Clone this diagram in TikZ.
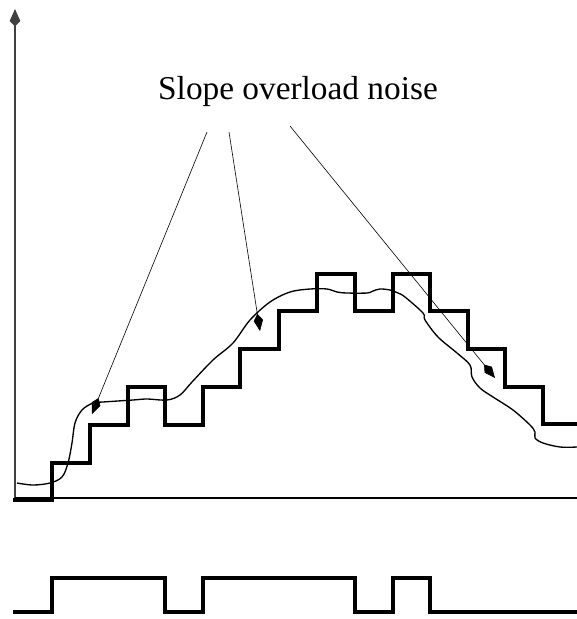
\documentclass[tikz,border=0pt]{standalone}
\usepackage{fontspec}
\setmainfont{Liberation Serif}
\usetikzlibrary{arrows.meta}
\begin{document}
\begin{tikzpicture}[x=0.75pt,y=-0.75pt,
  axisline/.style={line width=1pt,draw=black!75},
  stair/.style={line width=2.6pt,line join=miter,line cap=rect},
  signal/.style={line width=1pt,line join=round},
  pointer/.style={line width=0.45pt,-{Kite[length=13pt,width=7pt,inset=5pt]}},
  caption/.style={font=\fontsize{25}{30}\selectfont,inner sep=0pt}]
\useasboundingbox (0,0) rectangle (577,619);
% axes
\coordinate (origin) at (15,498);
\coordinate (ytop) at (15,9);
\coordinate (xend) at (577,498);
\draw[axisline,-{Kite[length=13pt,width=8pt,inset=4pt]}] (origin) -- (ytop);
\draw[line width=0.9pt] (origin) -- (xend);
% staircase approximation
\draw[stair] (15,500) -| (52,463) -| (90,425) -| (128,387) -| (165,425) -| (203,387)
  -| (240,349) -| (279,311) -| (317,274) -| (355,311) -| (393,274) -| (430,311)
  -| (468,349) -| (505,387) -| (543,424) -- (577,424);
% analog signal
\draw[signal] plot[smooth,tension=0.55] coordinates {
 (17,483) (33,485) (50,483) (62,477) (68,463) (72,443) (75,423) (82,410) (93,403)
 (103,402) (133,400) (147,399) (167,400) (180,395) (192,382) (213,360)
 (233,343) (250,320) (270,302) (290,292) (310,289) (327,289) (337,292) (347,293)
 (367,293) (373,291) (380,289) (390,290) (398,293) (405,297) (423,313) (425,320)
 (438,337) (457,353) (470,365) (472,377) (480,388) (493,397) (513,410) (530,425)
 (535,432) (535,438) (543,443) (560,447) (577,447)};
% bit stream
\draw[stair] (15,612) -| (52,578) -| (165,612) -| (203,578) -| (355,612) -| (393,578)
  -| (430,612) -- (577,612);
% label and pointers
\node[caption] (lbl) at (298,91) {Slope overload noise};
\coordinate (s1) at (207,132);
\coordinate (s2) at (229,132);
\coordinate (s3) at (290,126);
\coordinate (t1) at (92,414);
\coordinate (t2) at (260,331);
\coordinate (t3) at (495,378);
\draw[pointer] (s1) -- (t1);
\draw[pointer] (s2) -- (t2);
\draw[pointer] (s3) -- (t3);
\end{tikzpicture}
\end{document}
